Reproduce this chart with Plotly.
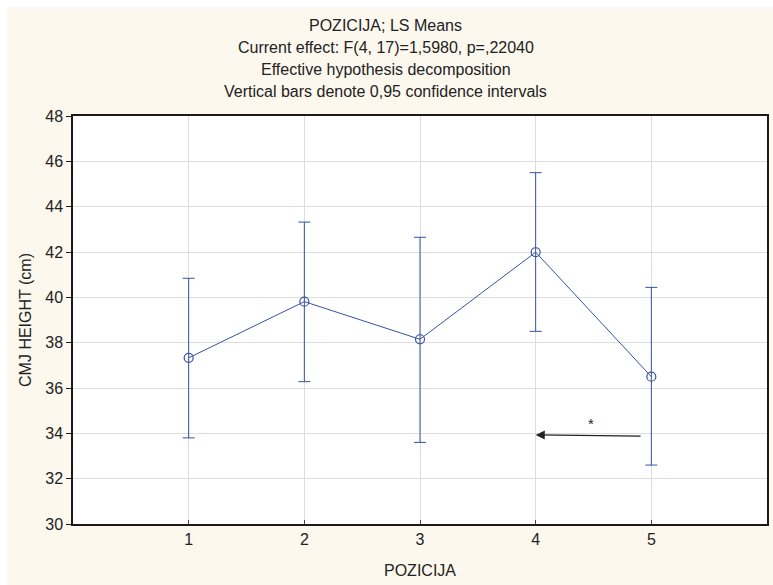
import plotly.graph_objects as go

# LS means of CMJ height per playing position, with 0.95 confidence limits
positions = [1, 2, 3, 4, 5]
ls_means = [37.33, 39.81, 38.15, 41.99, 36.50]
ci_upper = [40.84, 43.32, 42.65, 45.50, 40.44]
ci_lower = [33.80, 36.28, 33.60, 38.50, 32.60]

y_ticks = [30, 32, 34, 36, 38, 40, 42, 44, 46, 48]

title_lines = [
    "POZICIJA; LS Means",
    "Current effect: F(4, 17)=1,5980, p=,22040",
    "Effective hypothesis decomposition",
    "Vertical bars denote 0,95 confidence intervals",
]

# arrow marking the significant difference (from position 5 back to position 4)
arrow_tail = (4.92, 33.88)
arrow_head = (4.0, 33.93)
star_pos = (4.48, 34.45)

err_plus = [u - m for u, m in zip(ci_upper, ls_means)]
err_minus = [m - l for m, l in zip(ls_means, ci_lower)]

blue = "#3852a4"
cream = "#fcf8ee"
ink = "#222222"
font_family = "Liberation Sans, Arial, sans-serif"

W, H = 773, 585
L, R, T, B = 73, 4, 116, 61
plot_w = W - L - R
plot_h = H - T - B


def paper_y(px):
    """Convert a pixel row (from the top of the page) to paper y."""
    return (H - B - px) / plot_h


def paper_x(px):
    """Convert a pixel column (from the left of the page) to paper x."""
    return (px - L) / plot_w


fig = go.Figure()
fig.add_trace(go.Scatter(
    x=positions, y=ls_means,
    mode="lines+markers",
    line=dict(color=blue, width=1),
    marker=dict(symbol="circle-open", size=9, color=blue, line=dict(width=1.2, color=blue)),
    error_y=dict(type="data", symmetric=False, array=err_plus, arrayminus=err_minus,
                 color=blue, thickness=1, width=6),
    showlegend=False,
))

fig.add_annotation(
    x=arrow_head[0], y=arrow_head[1], ax=arrow_tail[0], ay=arrow_tail[1],
    xref="x", yref="y", axref="x", ayref="y",
    showarrow=True, arrowhead=2, arrowsize=1.4, arrowwidth=1.3, arrowcolor=ink,
    text="",
)
fig.add_annotation(
    x=star_pos[0], y=star_pos[1], xref="x", yref="y",
    text="*", showarrow=False, font=dict(size=15, color=ink),
)

# four-line heading, centred on the full page width
for i, line in enumerate(title_lines):
    fig.add_annotation(
        x=paper_x(W / 2), xref="paper", y=paper_y(26 + 21.7 * i), yref="paper",
        xanchor="center", yanchor="middle",
        text=line, showarrow=False, font=dict(size=16, color=ink),
    )

fig.update_layout(
    width=W, height=H,
    margin=dict(l=L, r=R, t=T, b=B),
    paper_bgcolor=cream,
    plot_bgcolor="white",
    font=dict(family=font_family, size=16, color=ink),
    shapes=[
        dict(type="rect", xref="paper", yref="paper", layer="below",
             x0=-0.2, x1=1.1, y0=paper_y(7), y1=1.4,
             fillcolor="white", line=dict(width=0)),
        dict(type="rect", xref="paper", yref="paper", layer="below",
             x0=-0.2, x1=paper_x(7), y0=-0.3, y1=1.4,
             fillcolor="white", line=dict(width=0)),
    ],
)

fig.update_xaxes(
    range=[0, 6], tickvals=positions, ticktext=[str(p) for p in positions],
    showgrid=True, gridcolor="#dddddd", gridwidth=1,
    showline=True, linecolor="#1a1a1a", linewidth=1.5, mirror=True,
    ticks="inside", ticklen=4, tickcolor="#444444",
    zeroline=False, tickfont=dict(size=16, color=ink),
    title=dict(text="POZICIJA", standoff=18, font=dict(size=16, color=ink)),
)
fig.update_yaxes(
    range=[30, 48], tickvals=y_ticks,
    showgrid=True, gridcolor="#dddddd", gridwidth=1,
    showline=True, linecolor="#1a1a1a", linewidth=1.5, mirror=True,
    ticks="outside", ticklen=5, tickcolor="#1a1a1a",
    zeroline=False, tickfont=dict(size=16, color=ink),
    title=dict(text="CMJ HEIGHT (cm)", standoff=10, font=dict(size=16, color=ink)),
)

fig.write_html("out.html")
